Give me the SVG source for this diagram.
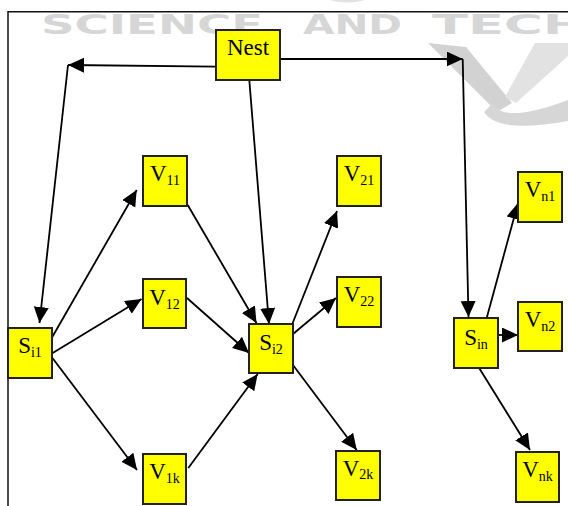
<svg xmlns="http://www.w3.org/2000/svg" width="568" height="506" viewBox="0 0 568 506">
<defs>
<marker id="ah" markerUnits="userSpaceOnUse" markerWidth="17" markerHeight="16" refX="16" refY="7.5" orient="auto">
<path d="M0,0 L16,7.5 L0,15 Z" fill="#000"/>
</marker>
<style>
.wm{font-family:"DejaVu Sans",sans-serif;font-weight:bold;font-size:27px;fill:#d6d6d6}
.box{fill:#ffff00;stroke:#222;stroke-width:2}
.lbl{font-family:"Liberation Serif","Times New Roman",serif;font-size:23px;fill:#000;text-anchor:middle}
.sub{font-size:14px}
.c line{stroke:#000;stroke-width:1.8;marker-end:url(#ah)}
</style>
</defs>
<rect width="568" height="506" fill="#fff"/>
<g id="watermark">
<text class="wm" x="41" y="34" textLength="222" lengthAdjust="spacingAndGlyphs">SCIENCE</text>
<text class="wm" x="303" y="34" textLength="99" lengthAdjust="spacingAndGlyphs">AND</text>
<text class="wm" x="432" y="34" textLength="155" lengthAdjust="spacingAndGlyphs">TECH</text>
<path d="M330,0 Q347,5 365,0 Z" fill="#e2e2e2"/>
<polygon points="428,43 466,47 512,103 497,112" fill="#d2d2d2"/>
<path d="M492,104 Q505,124 568,100 L568,121 Q498,134 484,112 Z" fill="#d6d6d6"/>
<polygon points="535,43 568,43 568,56 516,103 505,97" fill="#e2e2e2"/>
</g>
<path id="frame" d="M8,506 V11.7 H568" fill="none" stroke="#111" stroke-width="1.5"/>
<g id="connectors" class="c">
<line x1="216" y1="66.7" x2="68" y2="65"/>
<line x1="68" y1="65" x2="39.5" y2="323"/>
<line x1="280" y1="59" x2="462.7" y2="59"/>
<line x1="462.7" y1="59" x2="468.5" y2="317"/>
<line x1="249.3" y1="80" x2="269" y2="324"/>
<line x1="51.7" y1="338" x2="136.7" y2="190"/>
<line x1="52.7" y1="353" x2="141.5" y2="299"/>
<line x1="51.7" y1="357" x2="137" y2="470"/>
<line x1="187.7" y1="205" x2="256.5" y2="323"/>
<line x1="187" y1="298" x2="249" y2="353"/>
<line x1="188.3" y1="468" x2="257.7" y2="374"/>
<line x1="291.5" y1="326" x2="337" y2="211"/>
<line x1="293" y1="334" x2="336" y2="298"/>
<line x1="293" y1="365" x2="356.7" y2="450"/>
<line x1="486.7" y1="318" x2="518" y2="203"/>
<line x1="498.3" y1="335" x2="518" y2="335"/>
<line x1="479.3" y1="368.3" x2="530" y2="450"/>
</g>
<g id="Nest"><rect class="box" x="216" y="30" width="64" height="50"/><text class="lbl" x="248" y="54.5">Nest</text></g>
<g id="V11"><rect class="box" x="143" y="156" width="44" height="50"/><text class="lbl" x="165" y="181">V<tspan class="sub" dy="3.5">11</tspan></text></g>
<g id="V12"><rect class="box" x="143" y="279" width="43" height="49"/><text class="lbl" x="164.5" y="305">V<tspan class="sub" dy="3.5">12</tspan></text></g>
<g id="V1k"><rect class="box" x="143" y="454" width="43" height="50"/><text class="lbl" x="164.5" y="479">V<tspan class="sub" dy="3.5">1k</tspan></text></g>
<g id="Si1"><rect class="box" x="8" y="328" width="44" height="50"/><text class="lbl" x="30" y="353">S<tspan class="sub" dy="3.5">i1</tspan></text></g>
<g id="Si2"><rect class="box" x="249" y="324" width="44" height="49"/><text class="lbl" x="271" y="350">S<tspan class="sub" dy="3.5">i2</tspan></text></g>
<g id="V21"><rect class="box" x="337" y="156" width="44" height="50"/><text class="lbl" x="359" y="181">V<tspan class="sub" dy="3.5">21</tspan></text></g>
<g id="V22"><rect class="box" x="337" y="277" width="44" height="50"/><text class="lbl" x="359" y="302">V<tspan class="sub" dy="3.5">22</tspan></text></g>
<g id="V2k"><rect class="box" x="336" y="451" width="44" height="49"/><text class="lbl" x="358" y="475.5">V<tspan class="sub" dy="3.5">2k</tspan></text></g>
<g id="Sin"><rect class="box" x="454" y="318" width="44" height="50"/><text class="lbl" x="476" y="345">S<tspan class="sub" dy="3.5">in</tspan></text></g>
<g id="Vn1"><rect class="box" x="518" y="172" width="44" height="50"/><text class="lbl" x="540" y="197">V<tspan class="sub" dy="3.5">n1</tspan></text></g>
<g id="Vn2"><rect class="box" x="518" y="302" width="44" height="49"/><text class="lbl" x="540" y="327">V<tspan class="sub" dy="3.5">n2</tspan></text></g>
<g id="Vnk"><rect class="box" x="516" y="452" width="43" height="50"/><text class="lbl" x="537.5" y="477">V<tspan class="sub" dy="3.5">nk</tspan></text></g>
</svg>
